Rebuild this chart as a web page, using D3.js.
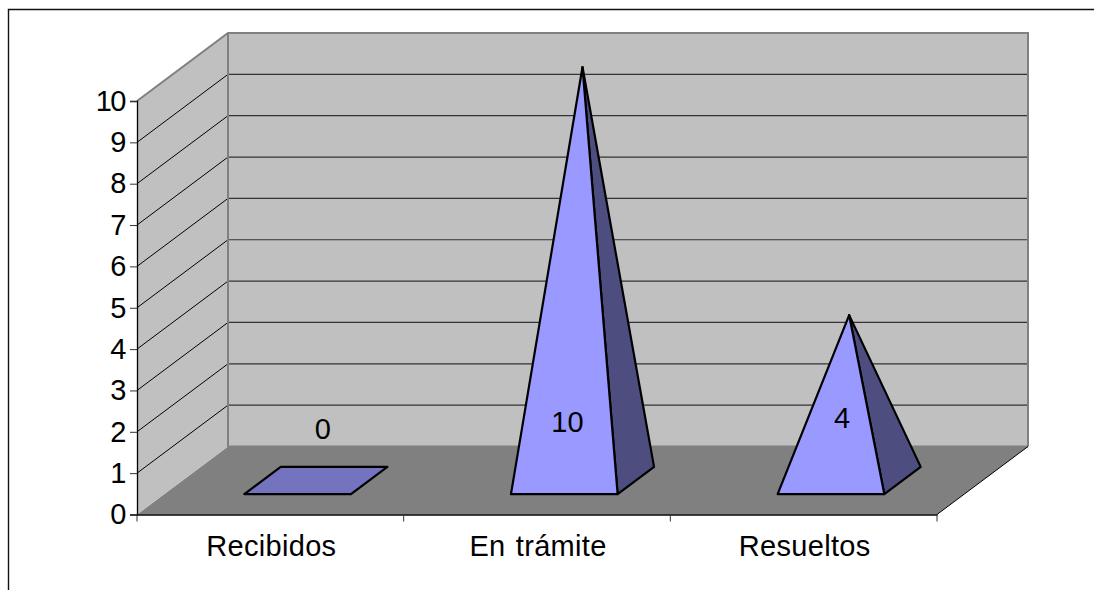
<!DOCTYPE html>
<html lang="es">
<head>
<meta charset="utf-8">
<script src="https://cdn.jsdelivr.net/npm/d3@7"></script>
<style>
  html, body { margin: 0; padding: 0; background: #fff; }
  svg { display: block; }
  text { font-family: "Liberation Sans", Arial, sans-serif; font-size: 29px; fill: #000; }
</style>
</head>
<body>
<div id="chart"></div>
<script>
const categories = ["Recibidos", "En trámite", "Resueltos"];
const seriesValues = [0, 10, 4];
const valueTicks = [0, 1, 2, 3, 4, 5, 6, 7, 8, 9, 10];

const width = 1094, height = 590;
const frontLeft = 137, frontRight = 937, frontBottom = 514.5, frontTop = 101;
const depthX = 91, depthY = -68;
const baseShare = 0.4;          // pyramid footprint as a share of the category band and the depth

const x = d3.scaleBand().domain(categories).range([frontLeft, frontRight]);
const y = d3.scaleLinear().domain([0, 10]).range([frontBottom, frontTop]);

// Oblique projection: d = 0 on the front plane, d = 1 on the back wall.
const project = (px, py, d) => [px + depthX * d, py + depthY * d];
const poly = pts => "M" + pts.map(p => p.join(",")).join("L") + "Z";

const svg = d3.select("#chart").append("svg").attr("width", width).attr("height", height);

// Outer frame: only the top and left edges fall inside the window.
svg.append("path").attr("d", "M8.5,590V9.5H1094").attr("fill", "none").attr("stroke", "#111").attr("stroke-width", 1.4);

// Floor, side wall, back wall
svg.append("path")
  .attr("d", poly([project(frontLeft, y(0), 0), project(frontRight, y(0), 0), project(frontRight, y(0), 1), project(frontLeft, y(0), 1)]))
  .attr("fill", "#808080");
svg.append("path")
  .attr("d", poly([project(frontLeft, y(0), 0), project(frontLeft, y(0), 1), project(frontLeft, y(10), 1), project(frontLeft, y(10), 0)]))
  .attr("fill", "#c0c0c0");
svg.append("path")
  .attr("d", poly([project(frontLeft, y(0), 1), project(frontRight, y(0), 1), project(frontRight, y(10), 1), project(frontLeft, y(10), 1)]))
  .attr("fill", "#c0c0c0");

// Gridlines run along the side wall and across the back wall
const grid = svg.append("g");
valueTicks.filter(v => v > 0 && v < 10).forEach(v => {
  const a = project(frontLeft, y(v), 0), b = project(frontLeft, y(v), 1), c = project(frontRight, y(v), 1);
  grid.append("line").attr("x1", a[0]).attr("y1", a[1]).attr("x2", b[0]).attr("y2", b[1])
    .attr("stroke", "#000").attr("stroke-width", 1);
  grid.append("line").attr("x1", b[0]).attr("y1", b[1]).attr("x2", c[0]).attr("y2", c[1])
    .attr("stroke", "#333").attr("stroke-width", 1.2);
});

// Wall edges
const edge = pts => svg.append("path").attr("d", "M" + pts.map(p => p.join(",")).join("L"))
  .attr("fill", "none").attr("stroke", "#808080").attr("stroke-width", 2);
edge([project(frontLeft, y(10), 0), project(frontLeft, y(10), 1), project(frontRight, y(10), 1), project(frontRight, y(0), 1)]);
edge([project(frontLeft, y(10), 1), project(frontLeft, y(0), 1), project(frontRight, y(0), 1)]);

// Floor edge toward the viewer on the right
svg.append("line")
  .attr("x1", project(frontRight, y(0), 0)[0]).attr("y1", project(frontRight, y(0), 0)[1])
  .attr("x2", project(frontRight, y(0), 1)[0]).attr("y2", project(frontRight, y(0), 1)[1])
  .attr("stroke", "#000").attr("stroke-width", 1);

// Axes
const yAxis = d3.axisLeft(y).tickValues(valueTicks).tickSize(7).tickPadding(5).tickFormat(d3.format("d"));
const gy = svg.append("g").attr("transform", `translate(${frontLeft},0)`).call(yAxis);
const xAxis = d3.axisBottom(x).tickSize(0).tickPadding(21);
const gx = svg.append("g").attr("transform", `translate(0,${frontBottom})`).call(xAxis);
svg.selectAll(".domain").attr("stroke", "#000").attr("stroke-width", 1.3);
svg.selectAll(".tick line").attr("stroke", "#333");
svg.selectAll(".tick text").attr("fill", "#000").style("font-size", "29px").style("font-family", '"Liberation Sans", Arial, sans-serif');
gx.selectAll(".tick text").attr("dy", "0.71em").attr("dx", 1).style("letter-spacing", "0.3px").style("word-spacing", "2px");
gy.selectAll(".tick text").style("letter-spacing", "-1.5px");

// Category separators under the floor
const sepPositions = categories.map(c => x(c)).concat(frontRight);
svg.append("g").selectAll("line").data(sepPositions).join("line")
  .attr("x1", d => d).attr("x2", d => d).attr("y1", frontBottom).attr("y2", frontBottom + 7)
  .attr("stroke", "#333").attr("stroke-width", 1);

// Pyramids
const marks = svg.append("g").selectAll("g").data(categories.map((c, i) => ({ c, v: seriesValues[i] }))).join("g");
marks.each(function (d) {
  const g = d3.select(this);
  const cx = x(d.c) + x.bandwidth() / 2;
  const half = x.bandwidth() * baseShare / 2;
  const near = (1 - baseShare) / 2, far = (1 + baseShare) / 2;
  const fl = project(cx - half, y(0), near), fr = project(cx + half, y(0), near);
  const br = project(cx + half, y(0), far), bl = project(cx - half, y(0), far);
  const apex = project(cx, y(d.v), 0.5);
  const stroke = sel => sel.attr("stroke", "#000").attr("stroke-width", 2.2).attr("stroke-linejoin", "round");
  if (d.v === 0) {
    g.append("path").attr("d", poly([fl, fr, br, bl])).attr("fill", "#7373bf").call(stroke);
  } else {
    g.append("path").attr("d", poly([fr, br, apex])).attr("fill", "#4d4d80").call(stroke);
    g.append("path").attr("d", poly([fl, fr, apex])).attr("fill", "#9999ff").call(stroke);
  }
});

// Value labels, set relative to each pyramid's centre
const labelOffset = { 0: [7, -52], 10: [-15, -59], 4: [-7, -63] };
svg.append("g").selectAll("text").data(categories.map((c, i) => ({ c, v: seriesValues[i] }))).join("text")
  .attr("text-anchor", "middle")
  .attr("x", d => x(d.c) + x.bandwidth() / 2 + depthX / 2 + labelOffset[d.v][0])
  .attr("y", d => frontBottom + depthY / 2 + labelOffset[d.v][1])
  .attr("dy", "0.36em")
  .text(d => d.v);
</script>
</body>
</html>
